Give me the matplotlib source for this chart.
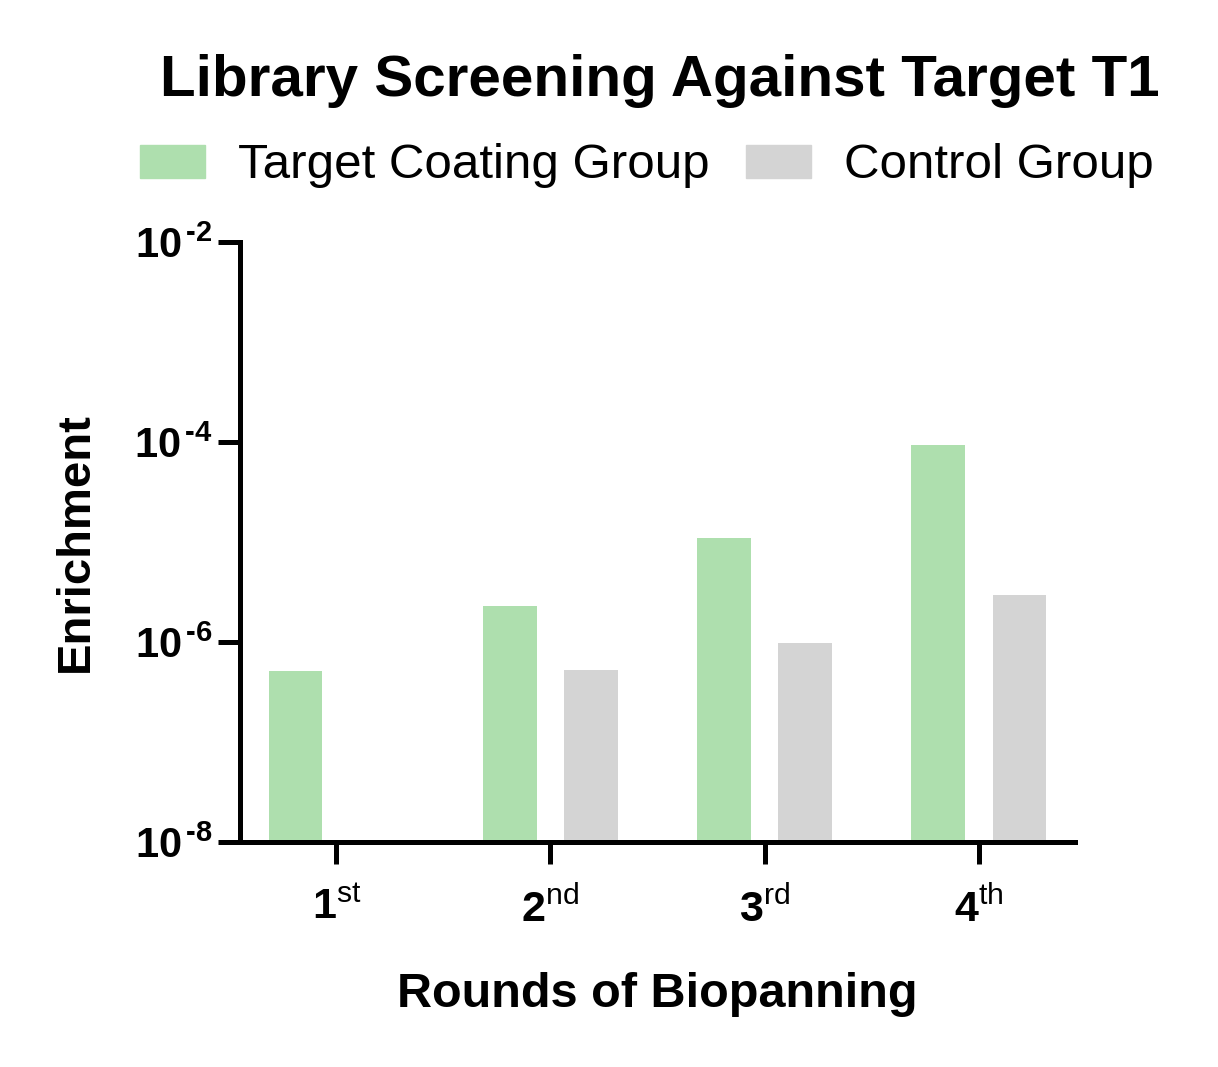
import matplotlib
matplotlib.use("Agg")
import matplotlib.pyplot as plt
import numpy as np
from matplotlib.ticker import FixedLocator, FixedFormatter, NullLocator
from matplotlib.patches import Patch

rounds = ["1", "2", "3", "4"]
suffixes = ["st", "nd", "rd", "th"]
target_coating = [5.1e-7, 2.3e-6, 1.1e-5, 9.3e-5]
control = [np.nan, 5.2e-7, 9.8e-7, 2.95e-6]
ytick_vals = [1e-8, 1e-6, 1e-4, 1e-2]
ytick_exps = ["8", "6", "4", "2"]

green = "#aedfae"
gray = "#d4d4d4"

plt.rcParams['font.family'] = ['Liberation Sans', 'DejaVu Sans']
plt.rcParams['mathtext.fontset'] = 'custom'
plt.rcParams['mathtext.rm'] = 'Liberation Sans'
plt.rcParams['mathtext.bf'] = 'Liberation Sans:bold'
plt.rcParams['mathtext.it'] = 'Liberation Sans:italic'

fig = plt.figure(figsize=(12.18, 10.67), dpi=100)
ax = fig.add_axes([240/1218, 1-842/1067, (1075-240)/1218, (842-242)/1067])

x = np.arange(len(rounds))
w = 0.25
off = 0.19
ymin, ymax = 1e-8, 1e-2
ax.bar(x - off, np.array(target_coating) - ymin, w, bottom=ymin, color=green)
ax.bar(x + off, np.array(control) - ymin, w, bottom=ymin, color=gray)

ax.set_yscale('log')
ax.set_ylim(ymin, ymax)
ax.set_xlim(-0.45, 3.45)

HY = '\u2010'
ax.yaxis.set_major_locator(FixedLocator(ytick_vals))
ax.yaxis.set_major_formatter(FixedFormatter(['$\\mathbf{10}^{\\,\\mathbf{' + HY + e + '}}$' for e in ytick_exps]))
ax.yaxis.set_minor_locator(NullLocator())
ax.set_xticks(x)
ax.set_xticklabels([r'$\mathbf{%s}^{\mathrm{%s}}$' % (r, s) for r, s in zip(rounds, suffixes)])

for s in ['top', 'right']:
    ax.spines[s].set_visible(False)
for s in ['left', 'bottom']:
    ax.spines[s].set_linewidth(3.6)
ax.tick_params(axis='both', which='major', length=16, width=3.6, direction='out')
ax.tick_params(axis='y', pad=4, labelsize=30)
ax.tick_params(axis='x', pad=17, labelsize=31)

ax.set_ylabel('Enrichment', fontsize=34, fontweight='bold', labelpad=26)
ax.set_xlabel('Rounds of Biopanning', fontsize=35, fontweight='bold', labelpad=30)

fig.text(660/1218, 1-81/1067, 'Library Screening Against Target T1', fontsize=42,
         fontweight='bold', ha='center', va='center')

handles = [Patch(color=green, label='Target Coating Group'), Patch(color=gray, label='Control Group')]
fig.legend(handles=handles, loc='center', bbox_to_anchor=(647/1218, 1-166/1067), ncol=2,
           frameon=False, fontsize=35.5, handlelength=1.31, handleheight=0.665,
           handletextpad=0.68, columnspacing=0.74, borderaxespad=0, borderpad=0)

fig.savefig('out.png', dpi=100)
